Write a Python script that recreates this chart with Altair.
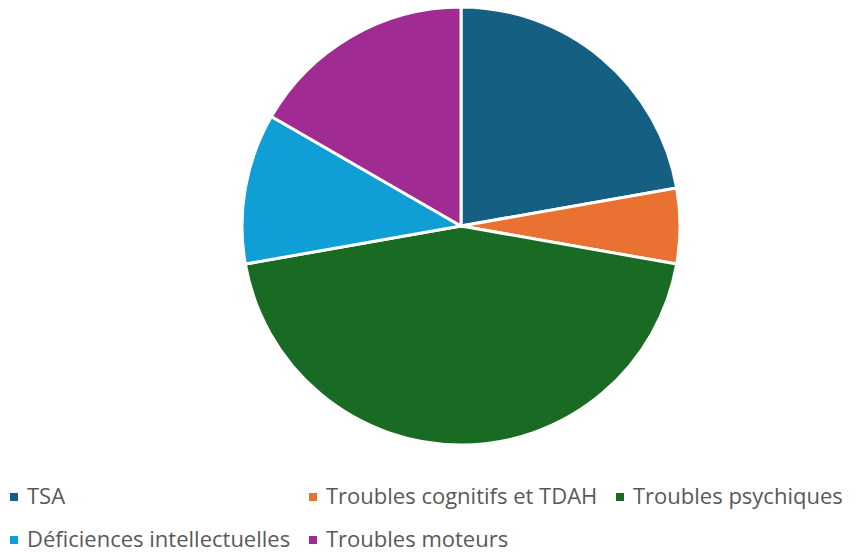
import altair as alt
import pandas as pd

categories = ["TSA", "Troubles cognitifs et TDAH", "Troubles psychiques",
              "Déficiences intellectuelles", "Troubles moteurs"]
values = [40, 10, 80, 20, 30]
colors = ["#156082", "#E97132", "#196B24", "#0F9ED5", "#A02B93"]

df = pd.DataFrame({"cat": categories, "val": values, "ord": list(range(len(values)))})

chart = alt.Chart(df).mark_arc(outerRadius=219, stroke="white", strokeWidth=3).encode(
    theta=alt.Theta("val:Q", stack=True),
    order=alt.Order("ord:Q"),
    x=alt.value(453),
    y=alt.value(218),
    color=alt.Color(
        "cat:N",
        scale=alt.Scale(domain=categories, range=colors),
        sort=categories,
        legend=alt.Legend(
            title=None,
            orient="none",
            legendX=-5,
            legendY=478,
            direction="horizontal",
            columns=3,
            columnPadding=11,
            rowPadding=21,
            symbolType="square",
            symbolSize=64,
            symbolStrokeWidth=0,
            labelFontSize=22,
            labelFont="Open Sans",
            labelColor="#595959",
            labelOffset=2,
            labelLimit=400,
        ),
    ),
).properties(width=843, height=547, padding=0, autosize="none").configure_view(stroke=None)

chart.save("out.html", embed_options={"renderer": "svg", "actions": False})
